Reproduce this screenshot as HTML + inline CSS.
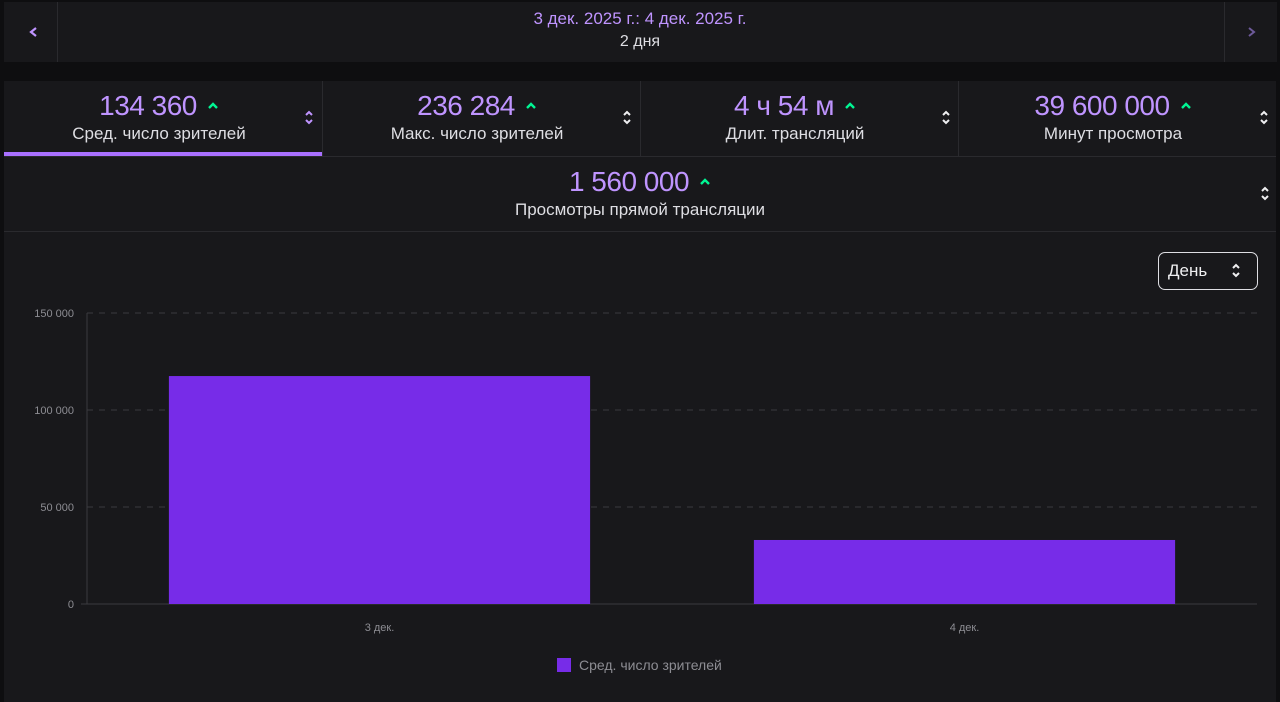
<!DOCTYPE html>
<html><head><meta charset="utf-8"><style>
body{margin:0;width:1280px;height:702px;background:#0e0e10;font-family:"Liberation Sans",sans-serif;overflow:hidden;position:relative;color:#efeff1}
.p{position:absolute;background:#18181b}
.c{position:absolute;text-align:center}
.num{font-size:28px;color:#bf94ff;letter-spacing:-0.5px}
.up{display:inline-block;margin-left:10px;vertical-align:6px}
.lbl{font-size:17px;color:#dedee3}
.sort{position:absolute}
</style></head><body>
<div class="p" style="left:4px;top:2px;width:1272px;height:60px;background:#18181b"></div>
<div class="p" style="left:4px;top:2px;width:53px;height:60px;border-right:1px solid #2a2a2e"><svg width="53" height="60"><path d="M32 26 L27 30 L32 34" stroke="#bf94ff" stroke-width="2.2" fill="none"/></svg></div>
<div class="p" style="left:1224px;top:2px;width:52px;height:60px;border-left:1px solid #2a2a2e"><svg width="52" height="60"><path d="M24 26 L29 30 L24 34" stroke="#6d5a9a" stroke-width="2" fill="none"/></svg></div>
<div class="c" style="left:0;width:1280px;top:9px;font-size:17px;color:#bf94ff">3 дек. 2025 г.: 4 дек. 2025 г.</div>
<div class="c" style="left:0;width:1280px;top:33px;font-size:16px;color:#dedee3">2 дня</div>

<div class="p" style="left:4px;top:81px;width:1272px;height:621px"></div>
<div class="p" style="left:322px;top:81px;width:1px;height:75px;background:#2a2a2e"></div>
<div class="p" style="left:640px;top:81px;width:1px;height:75px;background:#2a2a2e"></div>
<div class="p" style="left:958px;top:81px;width:1px;height:75px;background:#2a2a2e"></div>
<div class="p" style="left:4px;top:156px;width:1272px;height:1px;background:#2a2a2e"></div>
<div class="p" style="left:4px;top:231px;width:1272px;height:1px;background:#2a2a2e"></div>
<div class="p" style="left:4px;top:152px;width:318px;height:4px;background:#a970ff"></div>

<div>
<div class="c num" style="left:4px;width:310px;top:90px">134 360<svg class="up" width="12" height="8"><path d="M2 7 L6 3 L10 7" stroke="#00f593" stroke-width="2.4" fill="none"/></svg></div>
<div class="c lbl" style="left:4px;width:310px;top:124px">Сред. число зрителей</div>
<svg class="sort" style="left:303px;top:109px" width="12" height="18"><path d="M3 6 L6 3 L9 6 M3 11 L6 14 L9 11" stroke="#bf94ff" stroke-width="2" fill="none"/></svg></div>
<div>
<div class="c num" style="left:322px;width:310px;top:90px">236 284<svg class="up" width="12" height="8"><path d="M2 7 L6 3 L10 7" stroke="#00f593" stroke-width="2.4" fill="none"/></svg></div>
<div class="c lbl" style="left:322px;width:310px;top:124px">Макс. число зрителей</div>
<svg class="sort" style="left:621px;top:109px" width="12" height="18"><path d="M3 6 L6 3 L9 6 M3 11 L6 14 L9 11" stroke="#efeff1" stroke-width="2" fill="none"/></svg></div>
<div>
<div class="c num" style="left:640px;width:310px;top:90px">4 ч 54 м<svg class="up" width="12" height="8"><path d="M2 7 L6 3 L10 7" stroke="#00f593" stroke-width="2.4" fill="none"/></svg></div>
<div class="c lbl" style="left:640px;width:310px;top:124px">Длит. трансляций</div>
<svg class="sort" style="left:940px;top:109px" width="12" height="18"><path d="M3 6 L6 3 L9 6 M3 11 L6 14 L9 11" stroke="#efeff1" stroke-width="2" fill="none"/></svg></div>
<div>
<div class="c num" style="left:958px;width:310px;top:90px">39 600 000<svg class="up" width="12" height="8"><path d="M2 7 L6 3 L10 7" stroke="#00f593" stroke-width="2.4" fill="none"/></svg></div>
<div class="c lbl" style="left:958px;width:310px;top:124px">Минут просмотра</div>
<svg class="sort" style="left:1258px;top:109px" width="12" height="18"><path d="M3 6 L6 3 L9 6 M3 11 L6 14 L9 11" stroke="#efeff1" stroke-width="2" fill="none"/></svg></div>
<div>
<div class="c num" style="left:0;width:1280px;top:166px">1 560 000<svg class="up" width="12" height="8"><path d="M2 7 L6 3 L10 7" stroke="#00f593" stroke-width="2.4" fill="none"/></svg></div>
<div class="c lbl" style="left:0;width:1280px;top:200px">Просмотры прямой трансляции</div>
<svg class="sort" style="left:1259px;top:185px" width="12" height="18"><path d="M3 6 L6 3 L9 6 M3 11 L6 14 L9 11" stroke="#efeff1" stroke-width="2" fill="none"/></svg></div>

<div style="position:absolute;left:1158px;top:252px;width:100px;height:38px;border:1px solid #dedee3;border-radius:7px;box-sizing:border-box;font-size:17px;line-height:36px;padding-left:9px">День<svg style="position:absolute;right:15px;top:9px" width="12" height="18"><path d="M3 6 L6 3 L9 6 M3 11 L6 14 L9 11" stroke="#efeff1" stroke-width="2" fill="none"/></svg></div>

<svg id="chart" style="position:absolute;left:0;top:0" width="1280" height="702"></svg>
<script>
const categories=["3 дек.","4 дек."];
const values=[117500,33000];
const ticks=[0,50000,100000,150000];
const tickLabels=["0","50 000","100 000","150 000"];
const seriesName="Сред. число зрителей";
const svg=document.getElementById('chart');const NS="http://www.w3.org/2000/svg";
const x0=87,x1=1257,y0=604,y1=313,max=150000;
const y=v=>y0-(v/max)*(y0-y1);
const band=(x1-x0)/categories.length;
function mk(t,a,txt){const e=document.createElementNS(NS,t);for(const k in a)e.setAttribute(k,a[k]);if(txt)e.textContent=txt;svg.appendChild(e);return e;}
ticks.forEach((t,i)=>{
 if(t>0){const g=mk('line',{x1:x0,x2:x1,y1:y(t),y2:y(t),stroke:'#3a3a3f','stroke-dasharray':'6,6'});
 
 }
 const l=mk('text',{x:74,y:y(t)+4,'text-anchor':'end','font-size':11,fill:'#8d8d93','font-family':'Liberation Sans'},tickLabels[i]);
 
 
});
const ax=mk('line',{x1:x0,x2:x0,y1:y1,y2:y0,stroke:'#3a3a3f'});


const bx=mk('line',{x1:x0-6,x2:x1,y1:y0,y2:y0,stroke:'#3a3a3f'});


categories.forEach((c,i)=>{
 const bw=band*0.72,cx=x0+band*(i+0.5);
 const r=mk('rect',{x:cx-bw/2,y:y(values[i]),width:bw,height:y0-y(values[i]),fill:'#772ce8'});
 
 
 const t=mk('text',{x:cx,y:631,'text-anchor':'middle','font-size':11,fill:'#8d8d93','font-family':'Liberation Sans'},c);
 
 
});
const ls=mk('rect',{x:557,y:658,width:14,height:14,fill:'#772ce8'});


const lt=mk('text',{x:579,y:670,'font-size':14,fill:'#8d8d93','font-family':'Liberation Sans'},seriesName);


</script>
</body></html>
